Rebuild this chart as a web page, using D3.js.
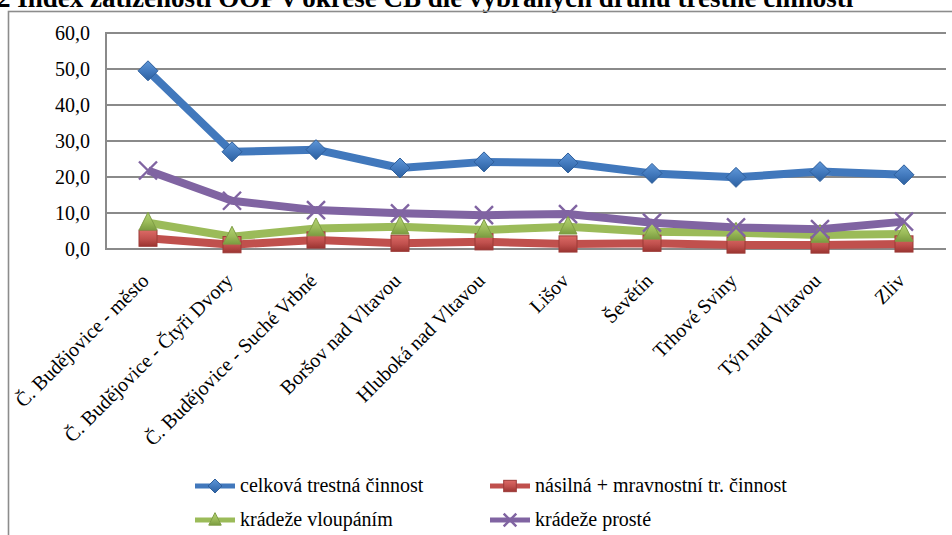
<!DOCTYPE html>
<html><head><meta charset="utf-8">
<script src="https://cdn.jsdelivr.net/npm/d3@7"></script>
<style>
html,body{margin:0;padding:0;background:#fff;overflow:hidden;}
svg{display:block;}
svg text{font-family:"Liberation Serif","Times New Roman",serif;}
</style></head>
<body><svg id="c" width="952" height="535"></svg>
<script>
const title = "2 Index zatíženosti OOP v okrese ČB dle vybraných druhů trestné činnosti";
const categories = ["Č. Budějovice - město","Č. Budějovice - Čtyři Dvory","Č. Budějovice - Suché Vrbné","Boršov nad Vltavou","Hluboká nad Vltavou","Lišov","Ševětín","Trhové Sviny","Týn nad Vltavou","Zliv"];
const seriesNames = ["celková trestná činnost","násilná + mravnostní tr. činnost","krádeže vloupáním","krádeže prosté"];
const celkova = [49.5,27.0,27.6,22.5,24.2,23.9,21.0,19.9,21.5,20.6];
const nasilna = [3.0,1.2,2.5,1.6,2.0,1.4,1.6,1.1,1.1,1.4];
const vloupani = [7.3,3.4,5.7,6.2,5.3,6.2,4.8,4.5,3.9,4.2];
const proste = [21.8,13.4,10.8,9.9,9.4,9.7,7.3,6.0,5.5,7.6];
const yTicks = [0,10,20,30,40,50,60];

const colors = ["#4178bc","#c0504d","#9bbb59","#8064a2"];
const lightC = ["#5f97d8","#dc6a66","#b3d474","#8064a2"];
const darkC = ["#2c609f","#9b3431","#7b9c41","#8064a2"];
const strokes = ["#2f5f9c","#9c3a37","#7f9d45","#8064a2"];
const markers = ["diamond","square","triangle","x"];
const data = [celkova,nasilna,vloupani,proste];

const svg = d3.select("#c");
const L=106, R=946, T=33, B=249;
const FS = 20;

const defs = svg.append("defs");
colors.forEach((c,k)=>{
  const gr = defs.append("linearGradient").attr("id","g"+k).attr("x1",0).attr("y1",0).attr("x2",0).attr("y2",1);
  gr.append("stop").attr("offset","0%").attr("stop-color",lightC[k]);
  gr.append("stop").attr("offset","55%").attr("stop-color",colors[k]);
  gr.append("stop").attr("offset","100%").attr("stop-color",darkC[k]);
});

// title (cropped at top)
svg.append("text").attr("x",-3).attr("y",7).attr("font-weight","bold").attr("font-size",27)
  .attr("fill","#000").text(title);

// outer chart border
svg.append("rect").attr("x",8.5).attr("y",11.5).attr("width",960).attr("height",540)
  .attr("fill","none").attr("stroke","#8c8c8c").attr("stroke-width",1.6);

const x = d3.scaleBand().domain(categories).range([L,R]);
const y = d3.scaleLinear().domain([0,60]).range([B,T]);
const fmt = v => d3.format(".1f")(v).replace(".",",");

// gridlines
svg.append("g").selectAll("line").data(yTicks.filter(d=>d>0)).join("line")
  .attr("x1",L).attr("x2",R).attr("y1",d=>y(d)).attr("y2",d=>y(d))
  .attr("stroke","#8a8a8a").attr("stroke-width",2);

// y axis
const ya = svg.append("g").attr("transform",`translate(${L},0)`)
  .call(d3.axisLeft(y).tickValues(yTicks).tickFormat(fmt).tickSize(0).tickPadding(16));
ya.attr("font-family",null);
ya.select(".domain").remove();
ya.selectAll("text").attr("font-size",FS).attr("fill","#000");
svg.append("line").attr("x1",L).attr("x2",L).attr("y1",T-1).attr("y2",B+1).attr("stroke","#8a8a8a").attr("stroke-width",2);

// x axis
svg.append("line").attr("x1",L-1).attr("x2",R).attr("y1",B).attr("y2",B).attr("stroke","#8a8a8a").attr("stroke-width",2);
const xa = svg.append("g").attr("transform",`translate(0,${B})`)
  .call(d3.axisBottom(x).tickSize(0).tickPadding(0));
xa.attr("font-family",null);
xa.select(".domain").remove();
xa.selectAll("text").attr("font-size",FS).attr("fill","#000")
  .attr("text-anchor","end").attr("dy",0)
  .attr("transform","translate(2,33) rotate(-45)");

// lines
const line = d3.line().x((d,i)=>x(categories[i])+x.bandwidth()/2).y(d=>y(d));
const gLines = svg.append("g");
data.forEach((s,k)=>{
  gLines.append("path").datum(s).attr("d",line).attr("fill","none")
    .attr("stroke",colors[k]).attr("stroke-width",8).attr("stroke-linejoin","round");
});

function drawMarker(g,type,cx,cy,k,scale){
  scale = scale||1;
  const col=`url(#g${k})`, st=strokes[k];
  if(type==="diamond"){
    const r=10*scale;
    g.append("path").attr("d",`M${cx},${cy-r}L${cx+r},${cy}L${cx},${cy+r}L${cx-r},${cy}Z`)
      .attr("fill",col).attr("stroke",st).attr("stroke-width",1);
  } else if(type==="square"){
    const r=9*scale;
    g.append("rect").attr("x",cx-r).attr("y",cy-r*0.9).attr("width",2*r).attr("height",1.8*r)
      .attr("fill",col).attr("stroke",st).attr("stroke-width",1);
  } else if(type==="triangle"){
    const r=10.5*scale;
    g.append("path").attr("d",`M${cx},${cy-r}L${cx+r*0.85},${cy+r*0.7}L${cx-r*0.85},${cy+r*0.7}Z`)
      .attr("fill",col).attr("stroke",st).attr("stroke-width",1);
  } else {
    const r=9*scale;
    g.append("path").attr("d",`M${cx-r},${cy-r}L${cx+r},${cy+r}M${cx+r},${cy-r}L${cx-r},${cy+r}`)
      .attr("stroke",colors[k]).attr("stroke-width",2.4).attr("fill","none");
  }
}
const gM = svg.append("g");
data.forEach((s,k)=>{
  s.forEach((v,i)=>{
    drawMarker(gM,markers[k],x(categories[i])+x.bandwidth()/2,y(v),k);
  });
});

// legend
const legPos = [[195,486],[490,486],[195,520],[490,520]];
seriesNames.forEach((n,k)=>{
  const [lx,ly]=legPos[k];
  const g=svg.append("g");
  g.append("line").attr("x1",lx).attr("x2",lx+40).attr("y1",ly).attr("y2",ly)
    .attr("stroke",colors[k]).attr("stroke-width",5);
  drawMarker(g,markers[k],lx+20,ly,k,0.7);
  g.append("text").attr("x",lx+45).attr("y",ly+6).attr("font-size",FS).attr("fill","#000").text(n);
});
</script></body></html>
